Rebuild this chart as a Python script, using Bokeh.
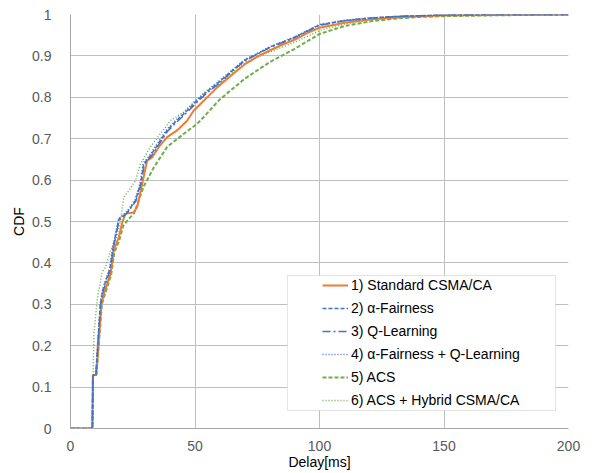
from bokeh.plotting import figure
from bokeh.models import Legend, LegendItem, BoxAnnotation, FixedTicker, CustomJSTickFormatter
from bokeh.embed import file_html
from bokeh.resources import INLINE

# ---- data ----
std_x = [0, 8.8, 9.0, 10.4, 12.4, 13.4, 16.1, 17.4, 19.4, 20.8, 22.1, 25.4, 26.8, 28.8, 30.8, 32.8, 35.5, 38.8, 42.8, 46.9, 49.5, 52.2, 58.9, 65, 70, 75, 80, 85, 90, 95, 100, 110, 120, 130, 140, 150, 170, 200]
std_y = [0, 0, 0.128, 0.13, 0.30, 0.325, 0.374, 0.43, 0.462, 0.498, 0.519, 0.522, 0.535, 0.591, 0.647, 0.655, 0.68, 0.704, 0.72, 0.744, 0.768, 0.784, 0.824, 0.855, 0.88, 0.898, 0.913, 0.927, 0.939, 0.955, 0.968, 0.98, 0.988, 0.993, 0.996, 0.998, 0.999, 1.0]

af_x = [0, 8.8, 9.0, 10.2, 12.0, 13.0, 15.8, 17.2, 19.4, 22.8, 26.1, 28.1, 29.4, 32.1, 35.5, 38.8, 42.0, 45.5, 50.9, 55.0, 58.9, 65, 70, 75, 80, 90, 100, 110, 120, 130, 140, 150, 170, 200]
af_y = [0, 0, 0.128, 0.13, 0.30, 0.335, 0.385, 0.44, 0.505, 0.522, 0.551, 0.59, 0.639, 0.659, 0.69, 0.72, 0.74, 0.76, 0.792, 0.815, 0.833, 0.865, 0.89, 0.905, 0.921, 0.945, 0.975, 0.985, 0.991, 0.995, 0.997, 0.999, 1.0, 1.0]

ql_x = [0, 8.8, 9.0, 10.2, 12.1, 13.2, 15.9, 17.3, 19.5, 22.9, 26.2, 28.2, 29.6, 32.3, 35.7, 39.0, 42.3, 45.8, 51.2, 55.3, 59.2, 65, 70, 75, 80, 90, 100, 110, 120, 130, 140, 150, 170, 200]
ql_y = [0, 0, 0.128, 0.13, 0.30, 0.333, 0.383, 0.438, 0.503, 0.521, 0.549, 0.588, 0.637, 0.657, 0.688, 0.718, 0.738, 0.758, 0.79, 0.813, 0.831, 0.863, 0.888, 0.904, 0.92, 0.944, 0.974, 0.985, 0.991, 0.995, 0.997, 0.999, 1.0, 1.0]

afq_x = [0, 8.8, 9.0, 10.1, 11.9, 12.9, 15.7, 17.1, 19.3, 22.6, 25.9, 27.9, 29.2, 31.9, 35.3, 38.6, 41.8, 45.3, 50.7, 54.8, 58.7, 65, 70, 75, 80, 90, 100, 110, 120, 130, 140, 150, 170, 200]
afq_y = [0, 0, 0.128, 0.13, 0.30, 0.337, 0.387, 0.442, 0.507, 0.524, 0.553, 0.592, 0.641, 0.661, 0.692, 0.722, 0.742, 0.762, 0.794, 0.817, 0.835, 0.866, 0.891, 0.906, 0.922, 0.946, 0.976, 0.986, 0.992, 0.995, 0.997, 0.999, 1.0, 1.0]

acs_x = [0, 8.8, 9.0, 10.4, 12.6, 13.6, 16.3, 17.6, 19.6, 21.2, 23.4, 25.5, 27.4, 29.4, 33.5, 38.8, 45.5, 50.0, 52.2, 58.9, 60, 70, 80, 90, 100, 110, 120, 130, 140, 150, 170, 200]
acs_y = [0, 0, 0.128, 0.13, 0.30, 0.32, 0.37, 0.425, 0.455, 0.49, 0.506, 0.52, 0.551, 0.585, 0.631, 0.68, 0.712, 0.732, 0.744, 0.788, 0.795, 0.845, 0.885, 0.917, 0.953, 0.972, 0.983, 0.99, 0.994, 0.996, 0.998, 1.0]

hyb_x = [0, 8.7, 9.4, 10.7, 12.7, 14.1, 16.1, 18.1, 20.1, 21.4, 23.5, 26.1, 28.1, 32.1, 36.1, 40.2, 45.5, 50.9, 57.5, 60, 70, 80, 90, 100, 110, 120, 130, 140, 150, 170, 200]
hyb_y = [0, 0, 0.229, 0.309, 0.378, 0.39, 0.43, 0.454, 0.502, 0.559, 0.575, 0.599, 0.639, 0.68, 0.712, 0.744, 0.764, 0.796, 0.824, 0.835, 0.885, 0.909, 0.933, 0.961, 0.977, 0.987, 0.992, 0.995, 0.997, 0.999, 1.0]

labels = ["1) Standard CSMA/CA", "2) \u03b1-Fairness", "3) Q-Learning",
          "4) \u03b1-Fairness + Q-Learning", "5) ACS", "6) ACS + Hybrid CSMA/CA"]
x_ticks = [0, 50, 100, 150, 200]
y_ticks = [0, 0.1, 0.2, 0.3, 0.4, 0.5, 0.6, 0.7, 0.8, 0.9, 1.0]

FONT = "Liberation Sans"
ORANGE = "#ED7D31"
BLUE = "#4472C4"
GREEN = "#70AD47"

p = figure(width=604, height=473, x_range=(0, 200), y_range=(0, 1),
           output_backend="svg", toolbar_location=None,
           min_border_left=70, min_border_right=36, min_border_top=14, min_border_bottom=45)
p.outline_line_color = None
p.background_fill_color = "white"

p.xaxis.ticker = FixedTicker(ticks=x_ticks)
p.yaxis.ticker = FixedTicker(ticks=y_ticks)
p.xaxis.formatter = CustomJSTickFormatter(code="return String(Number(tick.toFixed(2)));")
p.yaxis.formatter = CustomJSTickFormatter(code="return String(Number(tick.toFixed(2)));")

for ax in (p.xaxis[0], p.yaxis[0]):
    ax.major_tick_line_color = None
    ax.minor_tick_line_color = None
    ax.axis_line_color = "#A6A6A6"
    ax.major_label_text_font = FONT
    ax.major_label_text_font_size = "14px"
    ax.major_label_text_color = "#595959"
    ax.axis_label_text_font = FONT
    ax.axis_label_text_font_size = "14px"
    ax.axis_label_text_font_style = "normal"
    ax.axis_label_text_color = "black"

p.xaxis.axis_label = "Delay[ms]"
p.yaxis.axis_label = "CDF"
p.xaxis.major_label_standoff = 6
p.xaxis.axis_label_standoff = 0
p.yaxis.major_label_standoff = 13
p.yaxis.axis_label_standoff = 2

p.xgrid.grid_line_color = "#BFBFBF"
p.ygrid.grid_line_color = "#BFBFBF"
p.xgrid.grid_line_width = 1
p.ygrid.grid_line_width = 1

r6 = p.line(hyb_x, hyb_y, line_color=GREEN, line_width=1.5, line_dash="1 2")
r5 = p.line(acs_x, acs_y, line_color=GREEN, line_width=2, line_dash="4 2")
r1 = p.line(std_x, std_y, line_color=ORANGE, line_width=2)
r4 = p.line(afq_x, afq_y, line_color=BLUE, line_width=1.5, line_dash="1 2")
r3 = p.line(ql_x, ql_y, line_color=BLUE, line_width=1.5, line_dash="8 3 2 3")
r2 = p.line(af_x, af_y, line_color=BLUE, line_width=1.5, line_dash="4 2")

box = BoxAnnotation(left=87.1, right=194.8, bottom=0.0435, top=0.3696,
                    fill_color="white", fill_alpha=1.0,
                    line_color="#A6A6A6", line_width=1)
p.add_layout(box)

legend = Legend(items=[LegendItem(label=l, renderers=[r]) for l, r in
                       zip(labels, [r1, r2, r3, r4, r5, r6])],
                location=(252, 18), padding=0, margin=0, spacing=3,
                glyph_width=26, glyph_height=20, label_height=20, label_standoff=3,
                label_text_font=FONT, label_text_font_size="14px",
                label_text_color="black",
                background_fill_alpha=0, border_line_alpha=0)
p.add_layout(legend, "center")

open("out.html", "w").write(file_html(p, INLINE))
